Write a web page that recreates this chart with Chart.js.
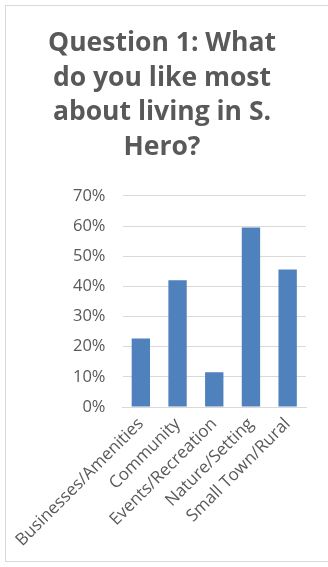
<!DOCTYPE html>
<html>
<head>
<meta charset="utf-8">
<script src="https://cdn.jsdelivr.net/npm/chart.js@4"></script>
<style>
  html, body { margin: 0; padding: 0; background: #ffffff; overflow: hidden; }
  body { width: 328px; height: 567px; position: relative; }
  #frame { position: absolute; left: 5px; top: 5px; width: 323px; height: 557px; box-sizing: border-box;
           border-left: 1px solid #d9d9d9; border-top: 1px solid #d9d9d9; border-bottom: 1px solid #d9d9d9; border-right: 0; }
  #wrap { position: absolute; left: 0; top: 0; width: 328px; height: 567px; }
</style>
</head>
<body>
<div id="frame"></div>
<div id="wrap"><canvas id="c" width="328" height="567"></canvas></div>
<script>
const titleLines = ["Question 1: What", "do you like most", "about living in S.", "Hero?"];
const categories = ["Businesses/Amenities", "Community", "Events/Recreation", "Nature/Setting", "Small Town/Rural"];
const values = [22.7, 42.0, 11.5, 59.5, 45.6];
const yTickValues = [0, 10, 20, 30, 40, 50, 60, 70];

const FONT = "'Open Sans', 'Noto Sans', sans-serif";

new Chart(document.getElementById('c'), {
  type: 'bar',
  data: {
    labels: categories,
    datasets: [{
      data: values,
      backgroundColor: '#4f81bd',
      borderWidth: 0,
      categoryPercentage: 1.0,
      barPercentage: 0.5
    }]
  },
  options: {
    responsive: false,
    animation: false,
    devicePixelRatio: 1,
    layout: { padding: { left: 18, right: 22, top: 26, bottom: 0 } },
    plugins: {
      legend: { display: false },
      tooltip: { enabled: false },
      title: {
        display: true,
        text: titleLines,
        color: '#595959',
        font: { family: FONT, size: 26.5, weight: 'bold', lineHeight: 1.31 },
        padding: { top: 0, bottom: 31 }
      }
    },
    scales: {
      x: {
        grid: { display: false, drawTicks: false },
        border: { display: true, color: '#d9d9d9', width: 1 },
        ticks: {
          color: '#595959',
          font: { family: FONT, size: 17 },
          maxRotation: 45, minRotation: 45,
          autoSkip: false,
          padding: 7
        },
        afterFit: (s) => { s.height = 160; }
      },
      y: {
        min: 0, max: 70,
        afterBuildTicks: (s) => { s.ticks = yTickValues.map(v => ({ value: v })); },
        grid: { color: '#d9d9d9', drawTicks: false },
        border: { display: false },
        ticks: {
          color: '#595959',
          font: { family: FONT, size: 16.5 },
          padding: 17,
          callback: (v) => v + '%'
        },
        afterFit: (s) => { s.width = 100; }
      }
    }
  }
});
</script>
</body>
</html>
